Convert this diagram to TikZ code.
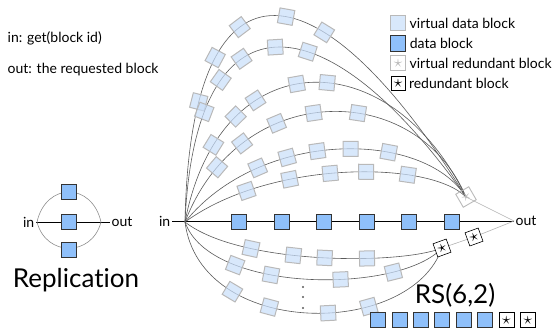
\documentclass[tikz,border=0pt]{standalone}
\usepackage{fontspec}
\setmainfont{Lato}[Ligatures=NoCommon]
\usetikzlibrary{positioning}
\definecolor{dblue}{RGB}{143,192,250}
\definecolor{vblue}{RGB}{200,222,250}
\definecolor{vgray}{RGB}{185,185,185}
\definecolor{wgray}{RGB}{90,90,90}

\begin{document}
\begin{tikzpicture}[x=1pt,y=-1pt,
  vblock/.style={draw=vgray,fill=vblue,fill opacity=0.7,draw opacity=1,line width=1pt,minimum size=15pt,inner sep=0pt},
  dblock/.style={draw=black!80,fill=dblue,line width=0.7pt,minimum size=15.5pt,inner sep=0pt},
  rblock/.style={draw=black,fill=white,line width=0.6pt,minimum size=14pt,inner sep=0pt,font=\LARGE},
  vrblock/.style={draw=vgray,line width=0.9pt,minimum size=15pt,inner sep=0pt,text=vgray,font=\LARGE},
  wire/.style={draw=wgray,line width=0.6pt},
  fade/.style={draw=black!30,line width=0.6pt},
  txt/.style={font=\fontsize{14}{16}\selectfont,inner sep=1.5pt},
  big/.style={font=\fontsize{26}{30}\selectfont,inner sep=0pt}]
   \useasboundingbox (0,0) rectangle (556,335);

   % request / answer
   \node[txt,anchor=west] (get) at (6,38) {in: get(block id)};
   \node[txt,anchor=west] (ret) at (6,70) {out: the requested block};

   % legend
   \node[vblock] (lv) at (398,23) {};
   \node[dblock,below=4pt of lv] (ld) {};
   \node[vrblock,below=4pt of ld] (lvr) {$\star$};
   \node[rblock,below=5pt of lvr] (lr) {$\star$};
   \node[txt,right=2pt of lv] {virtual data block};
   \node[txt,right=2pt of ld] {data block};
   \node[txt,right=2pt of lvr] {virtual redundant block};
   \node[txt,right=2pt of lr] {redundant block};

   % replication
   \node[txt,anchor=east] (rin) at (36,222) {in};
   \node[txt,anchor=west] (rout) at (110,222) {out};
   \coordinate (ra) at (37,222);
   \coordinate (rb) at (101,222);
   \draw[line width=0.9pt] (rin) -- (rout);
   \draw[draw=black!45,line width=0.6pt] (ra) .. controls (46,182) and (92,182) .. (rb);
   \draw[draw=black!45,line width=0.6pt] (ra) .. controls (46,257) and (92,257) .. (rb);
   \node[dblock] (rep1) at (69,192) {};
   \node[dblock] (rep2) at (69,222) {};
   \node[dblock] (rep3) at (69,250) {};
   \node[big] (repl) at (76,280) {Replication};

   % erasure coding
   \node[txt,anchor=east] (inl) at (172,221) {in};
   \node[txt,anchor=west] (outl) at (514,221) {out};
   \coordinate (in) at (185,222);
   \coordinate (vc) at (466,197);
   \coordinate (rc) at (442,248);
   \draw[line width=0.9pt] (inl) -- (outl);
   \foreach \k/\c/\xa/\xb/\pl in {1/-49/190/314/{0.18,0.28,0.39,0.55,0.66},
                                  2/-7/195/322/{0.2,0.29,0.38,0.5,0.6},
                                  3/40/220/390/{0.17,0.26,0.33,0.46,0.55},
                                  4/79/240/416/{0.15,0.24,0.35,0.46,0.59},
                                  5/129/260/423/{0.26,0.35,0.44,0.54,0.66},
                                  6/160/270/429/{0.21,0.34,0.46,0.57,0.71}}
     \draw[wire] (in) .. controls (\xa,\c) and (\xb,\c) .. (vc)
        foreach \p [count=\j] in \pl {node[vblock,sloped,pos=\p] (u\k-\j) {}};
   \foreach \k/\c/\xa/\xb/\pl in {1/265/240/400/{0.28,0.42,0.52,0.66},
                                  2/294/210/400/{0.27,0.39,0.6,0.77},
                                  3/339/200/410/{0.27,0.39,0.56,0.68}}
     \draw[wire] (in) .. controls (\xa,\c) and (\xb,\c) .. (rc)
        foreach \p [count=\j] in \pl {node[vblock,sloped,pos=\p] (l\k-\j) {}};
   \foreach \i/\x in {1/239,2/282,3/324,4/367,5/409,6/452}
     \node[dblock] (d\i) at (\x,222) {};
   \node[vrblock,rotate=30] (vr) at (vc) {$\star$};
   \node[rblock,rotate=20] (r1) at (rc) {$\star$};
   \node[rblock,rotate=20] (r2) at (474,237) {$\star$};
   \draw[fade] (vc) -- (outl.west);
   \draw[fade] (r1) -- (r2) -- (outl.west);
   \foreach \y in {287,297,308}
     \fill[wgray] (303,\y) circle (1.1pt);

   % RS(6,2)
   \node[big] (rs) at (455,295) {RS(6,2)};
   \foreach \i in {1,...,6}
     \node[dblock,minimum size=15pt] (s\i) at ({378+21.4*(\i-1)},320) {};
   \foreach \i in {7,8}
     \node[rblock,minimum size=15pt] (s\i) at ({378+21.4*(\i-1)},320) {$\star$};
\end{tikzpicture}
\end{document}
